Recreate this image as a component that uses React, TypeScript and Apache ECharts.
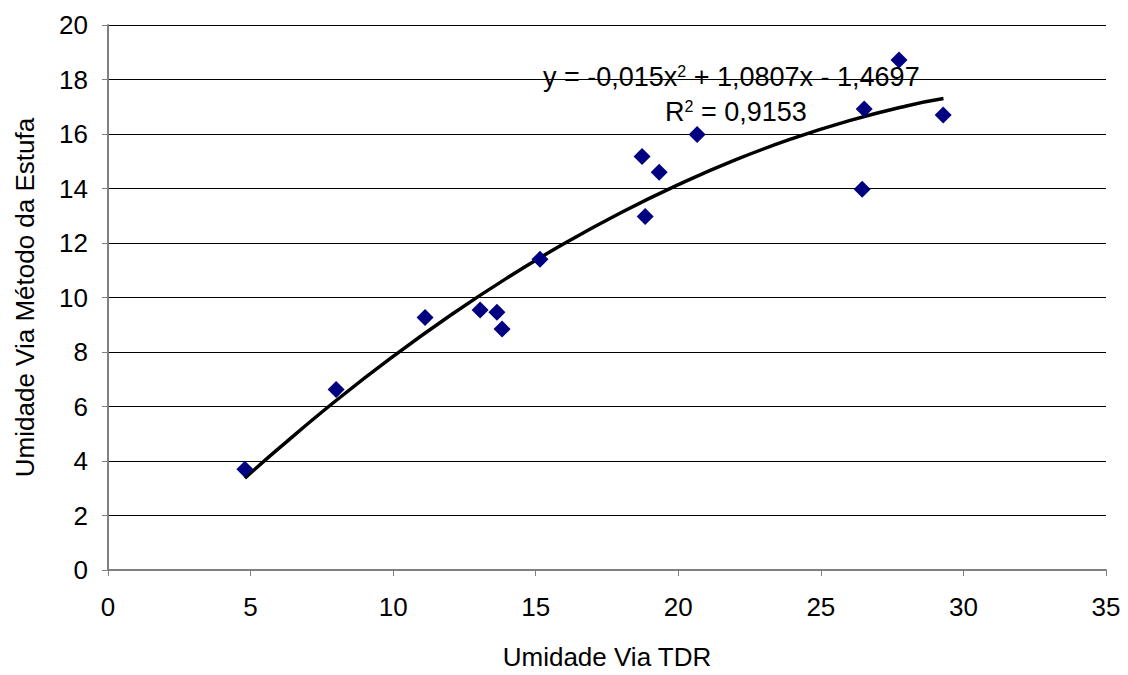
import React, { useEffect, useRef } from "react";
import * as echarts from "echarts";

const xTDR = [4.8, 8.0, 11.12, 13.05, 13.64, 13.82, 15.15, 18.73, 18.84, 19.33, 20.66, 26.45, 26.52, 27.74, 29.29];
const yEstufa = [3.7, 6.62, 9.27, 9.54, 9.46, 8.84, 11.4, 15.17, 12.97, 14.6, 15.98, 13.97, 16.92, 18.72, 16.7];

const trendX = [4.8, 6, 8, 10, 12, 14, 16, 18, 20, 22, 24, 26, 28, 29.3];
const trendY = [3.37, 4.47, 6.22, 7.84, 9.34, 10.72, 11.98, 13.12, 14.14, 15.05, 15.83, 16.49, 17.03, 17.3];

const xTitle = "Umidade Via TDR";
const yTitle = "Umidade Via Método da Estufa";

const FONT = "Liberation Sans, Arial, sans-serif";

export default function App() {
  const ref = useRef<HTMLDivElement>(null);
  useEffect(() => {
    if (!ref.current) return;
    const chart = echarts.init(ref.current, undefined, { renderer: "svg" });
    const supStyle = { fontFamily: FONT, fontSize: 16, verticalAlign: "top", fill: "#000", padding: [0, 0, 12, 0] };
    chart.setOption({
      animation: false,
      backgroundColor: "#ffffff",
      grid: { left: 108, right: 22, top: 25, bottom: 105 },
      xAxis: {
        type: "value",
        min: 0,
        max: 35,
        interval: 5,
        name: xTitle,
        nameLocation: "middle",
        nameGap: 74,
        nameTextStyle: { fontFamily: FONT, fontSize: 26, color: "#000" },
        axisLine: { show: true, lineStyle: { color: "#808080", width: 2 } },
        axisTick: { show: true, inside: false, length: 6, lineStyle: { color: "#808080", width: 1 } },
        axisLabel: { fontFamily: FONT, fontSize: 26, color: "#000", margin: 24 },
        splitLine: { show: false },
      },
      yAxis: {
        type: "value",
        min: 0,
        max: 20,
        interval: 2,
        name: yTitle,
        nameLocation: "middle",
        nameGap: 70,
        nameRotate: 90,
        nameTextStyle: { fontFamily: FONT, fontSize: 26, color: "#000" },
        axisLine: { show: true, lineStyle: { color: "#808080", width: 2 } },
        axisTick: { show: true, inside: false, length: 6, lineStyle: { color: "#808080", width: 1 } },
        axisLabel: { fontFamily: FONT, fontSize: 26, color: "#000", margin: 20 },
        splitLine: { show: true, lineStyle: { color: "#000", width: 1 } },
      },
      series: [
        {
          type: "line",
          data: trendX.map((x, i) => [x, trendY[i]]),
          showSymbol: false,
          symbol: "none",
          smooth: true,
          lineStyle: { color: "#000", width: 3.5 },
          z: 2,
        },
        {
          type: "scatter",
          data: xTDR.map((x, i) => [x, yEstufa[i]]),
          symbol: "diamond",
          symbolSize: 17,
          itemStyle: { color: "#000080", opacity: 1 },
          z: 3,
        },
      ],
      graphic: [
        {
          type: "text",
          left: 543,
          top: 63,
          z: 10,
          style: {
            text: "y = -0,015x{sup|2} + 1,0807x - 1,4697",
            fontFamily: FONT,
            fontSize: 27,
            fill: "#000",
            rich: { sup: supStyle },
          },
        },
        {
          type: "text",
          left: 665,
          top: 98,
          z: 10,
          style: {
            text: "R{sup|2} = 0,9153",
            fontFamily: FONT,
            fontSize: 27,
            fill: "#000",
            rich: { sup: supStyle },
          },
        },
      ],
    });
    return () => chart.dispose();
  }, []);
  return <div ref={ref} style={{ width: 1128, height: 675, position: "absolute", left: 0, top: 0 }} />;
}
